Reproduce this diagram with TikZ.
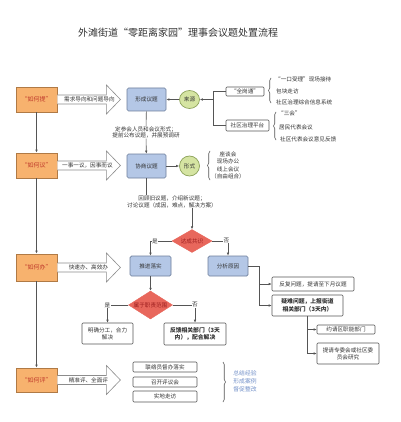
\documentclass[tikz,border=0pt]{standalone}
\usepackage{fontspec}
\newfontfamily\cjk{Noto Sans CJK SC}
\usetikzlibrary{shapes.geometric,arrows.meta,decorations.pathreplacing,calc}
\definecolor{ofill}{HTML}{F7B26E}
\definecolor{oline}{HTML}{B07A45}
\definecolor{otext}{HTML}{C0392B}
\definecolor{bfill}{HTML}{B4C7E6}
\definecolor{bline}{HTML}{6E7F9C}
\definecolor{gfill}{HTML}{D5E4A2}
\definecolor{gline}{HTML}{8CA25A}
\definecolor{dfill}{HTML}{E8675C}
\definecolor{dtext}{HTML}{9B1C1C}
\definecolor{lncol}{HTML}{555555}
\definecolor{txt}{HTML}{333333}
\definecolor{bluetxt}{HTML}{7391C9}
\definecolor{agray}{HTML}{8C8C8C}
\tikzset{
 base/.style={font=\cjk\fontsize{5.6}{6.6}\selectfont, text=txt, inner sep=0pt, align=center},
 bold/.style={font=\cjk\fontsize{5.8}{7.6}\bfseries\selectfont},
 obox/.style={base, draw=oline, fill=ofill, text=otext, line width=0.8pt, minimum width=41pt, minimum height=25pt, font=\cjk\fontsize{6}{7}\selectfont},
 bbox/.style={base, draw=bline, fill=bfill, line width=0.7pt, rounded corners=1.5pt, minimum width=39pt, minimum height=23pt},
 gcirc/.style={base, ellipse, draw=gline, fill=gfill, line width=0.7pt, minimum width=20pt, minimum height=18pt},
 wbox/.style={base, draw=lncol, fill=white, line width=0.6pt, rounded corners=1pt},
 dia/.style={base, diamond, draw=dfill, fill=dfill, text=dtext, shape aspect=1.5},
 ln/.style={draw=lncol, line width=0.6pt},
 arr/.style={ln, -{Latex[length=3pt,width=2.6pt]}},
 barrow/.style={draw=agray, line width=0.6pt, fill=white},
 lbl/.style={base, fill=white, inner sep=0.5pt},
 brc/.style={ln, decorate, decoration={brace, amplitude=2.5pt}},
}
\begin{document}
\begin{tikzpicture}[x=1pt,y=-1pt]
\useasboundingbox[fill=white] (0,0) rectangle (400,422);
\node[base, font=\cjk\fontsize{10}{12}\selectfont] (title) at (178,33) {外滩街道“零距离家园”理事会议题处置流程};

% left column
\node[obox] (q1) at (36.5,99.5) {“如何提”};
\node[obox] (q2) at (36.5,165.5) {“如何议”};
\node[obox, minimum height=27pt] (q3) at (36.5,267.5) {“如何办”};
\node[obox, minimum height=24pt] (q4) at (36.5,380) {“如何评”};
\draw[arr] (q1) -- (q2);
\draw[arr] (q2) -- (q3);
\draw[arr] (q3) -- (q4);

% block arrows
\foreach \q in {q1,q2,q3,q4}{
 \begin{scope}[shift={(\q.east)}]
 \draw[barrow] (0,-4.5) -- (49,-4.5) -- (49,-14.5) -- (63,0) -- (49,14.5) -- (49,4.5) -- (0,4.5);
 \end{scope}
}
\node[base] (a1) at ($(q1.east)+(32,0)$) {需求导向和问题导向};
\node[base] (a2) at ($(q2.east)+(30,0)$) {一事一议，因事而议};
\node[base] (a3) at ($(q3.east)+(31,0)$) {快速办、高效办};
\node[base] (a4) at ($(q4.east)+(31,0)$) {精准评、全面评};

% blue process boxes
\node[bbox] (p1) at (146.5,99.5) {形成议题};
\node[bbox, minimum height=24pt] (p2) at (146.5,166) {协商议题};
\node[bbox, minimum width=41pt, minimum height=20pt] (p3) at (150.5,266) {推进落实};
\node[bbox, minimum width=40pt, minimum height=20pt] (p4) at (228,266) {分析原因};

% green circles
\node[gcirc] (src) at (189.5,99.5) {来源};
\node[gcirc, minimum height=20pt] (form) at (189.5,166) {形式};
\draw[arr] (src) -- (p1);
\draw[arr] (p2) -- (form);

% sources tree
\coordinate (c0) at (213,99.5);
\node[wbox, minimum width=38pt, minimum height=9pt] (k1) at (245,91.5) {“全岗通”};
\node[wbox, minimum width=43pt, minimum height=11pt] (k2) at (247.5,125.5) {社区治理平台};
\draw[arr] (c0) -- (src.east);
\draw[ln] (c0 |- k1.west) -- (c0 |- k2.west);
\draw[ln] (c0 |- k1.west) -- (k1.west);
\draw[ln] (c0 |- k2.west) -- (k2.west);
\draw[brc] (271,103) -- (271,78);
\node[base, anchor=west] (k11) at (275,79.5) {“一口受理”现场接待};
\node[base, anchor=west] (k12) at (276,91) {包块走访};
\node[base, anchor=west] (k13) at (276,102.5) {社区治理综合信息系统};
\draw[brc] (276,140) -- (276,112);
\node[base, anchor=west] (k21) at (278,113) {“三会”};
\node[base, anchor=west] (k22) at (279,127) {居民代表会议};
\node[base, anchor=west] (k23) at (280,139) {社区代表会议意见反馈};

% form group
\draw[brc] (210,180) -- (210,151);
\node[base, font=\cjk\fontsize{5.6}{7.5}\selectfont] (fm) at (228,165.5) {座谈会\\现场办公\\线上会议\\（自由组合）};

% notes between steps
\node[base] (n1) at (146,132.5) {定参会人员和会议形式；\\提前公布议题，并展预调研};
\draw[ln] (p1) -- (n1);
\draw[arr] (n1) -- (p2);

\node[dia, minimum width=40pt, minimum height=23pt] (d1) at (192,241) {达成共识};
\node[base, font=\cjk\fontsize{5.6}{7}\selectfont] (n2) at (172,201.5) {回顾旧议题，介绍新议题；\\讨论议题（成因，难点，解决方案）};
\draw[ln] (p2.south) -- (p2.south |- n2.north);
\draw[arr] (d1.north |- n2.south) -- (d1.north);

% consensus branches
\draw[arr] (d1.west) -| (p3.north);
\draw[arr] (d1.east) -| (p4.north);
\node[lbl] (y1) at (155,241) {是};
\node[lbl] (f1) at (226.5,240.5) {否};

% responsibility diamond
\node[dia, minimum width=44pt, minimum height=28pt] (d2) at (150.5,305) {属于职责范围};
\draw[arr] (p3) -- (d2);
\node[wbox, minimum width=51pt, minimum height=21pt, font=\cjk\fontsize{5.6}{7.2}\selectfont] (r1) at (107.5,333.5) {明确分工，合力\\解决};
\node[wbox, bold, minimum width=62pt, minimum height=22pt] (r2) at (195,334) {反馈相关部门（3天\\内），配合解决};
\draw[arr] (d2.west) -| (r1.north);
\draw[arr] (d2.east) -| (r2.north);
\node[lbl] (y2) at (107.5,305) {是};
\node[lbl] (f2) at (195,305) {否};

% analysis tree
\node[wbox, minimum width=82pt, minimum height=14pt] (s1) at (313,284) {反复问题，提请至下月议题};
\node[wbox, bold, minimum width=71pt, minimum height=21pt] (s2) at (307.5,305.5) {疑难问题，上报街道\\相关部门（3天内）};
\coordinate (c1) at (259,266);
\draw[ln] (p4.east) -- (c1) -- (c1 |- s2.west);
\draw[arr] (c1 |- s1.west) -- (s1.west);
\draw[arr] (c1 |- s2.west) -- (s2.west);

\node[wbox, minimum width=58pt, minimum height=9pt] (t1) at (346,329.5) {约请区职能部门};
\node[wbox, minimum width=62pt, minimum height=21pt, font=\cjk\fontsize{5.6}{7.2}\selectfont] (t2) at (348,353.5) {提请专委会或社区委\\员会研究};
\draw[ln] (s2.south) -- (s2.south |- t2.west);
\draw[arr] (s2.south |- t1.west) -- (t1.west);
\draw[arr] (s2.south |- t2.west) -- (t2.west);

% evaluation
\node[wbox, minimum width=64pt, minimum height=10pt] (e1) at (165,367) {联络员督办落实};
\node[wbox, minimum width=64pt, minimum height=10pt] (e2) at (165,382) {召开评议会};
\node[wbox, minimum width=64pt, minimum height=11pt] (e3) at (165,396.5) {实地走访};
\draw[brc] (223,362) -- (223,402);
\node[base, text=bluetxt, font=\cjk\fontsize{5.8}{8}\selectfont] (sum) at (245,381) {总结经验\\形成案例\\督促整改};
\end{tikzpicture}
\end{document}
